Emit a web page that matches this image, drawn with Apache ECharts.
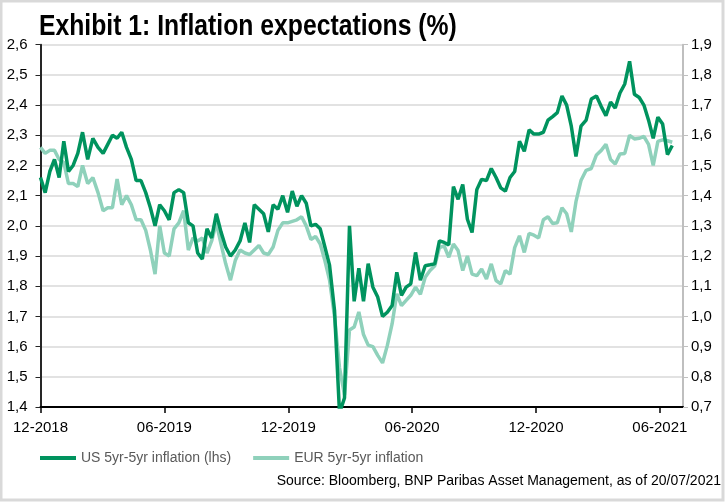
<!DOCTYPE html>
<html>
<head>
<meta charset="utf-8">
<script src="https://cdn.jsdelivr.net/npm/echarts@6/dist/echarts.min.js"></script>
<style>
html,body{margin:0;padding:0;background:#fff;}
#chart{width:725px;height:502px;}
</style>
</head>
<body>
<div id="chart"></div>
<script>
// Weekly observations starting from this date
const startDate = '2018-12-01';
const xTickLabels = ['12-2018','06-2019','12-2019','06-2020','12-2020','06-2021'];
const leftTicks = [1.4, 2.6, 0.1];   // min, max, step (lhs)
const rightTicks = [0.7, 1.9, 0.1];  // min, max, step (rhs)

// US 5yr-5yr inflation (lhs, %)
const usInflation = [
  2.16,2.11,2.18,2.22,2.16,2.28,2.18,2.20,2.24,2.31,2.22,2.29,2.26,2.24,2.27,2.30,2.29,2.31,2.26,2.22,
  2.15,2.15,2.11,2.06,2.00,2.07,2.05,2.02,2.11,2.12,2.11,2.01,2.00,1.91,1.89,1.99,
  1.96,2.04,1.98,1.93,1.90,1.92,1.95,2.01,1.945,2.07,2.055,2.04,1.98,2.07,2.055,2.10,2.045,2.115,2.065,2.10,
  2.075,2.00,2.005,1.99,1.93,1.87,1.72,1.38,1.43,2.00,1.75,1.86,1.75,1.875,
  1.797,1.764,1.70,1.714,1.736,1.846,1.77,1.797,1.808,1.912,1.82,1.868,1.871,1.874,1.95,1.945,1.937,2.13,
  2.088,2.137,2.022,1.978,2.12,2.154,2.15,2.19,2.16,2.126,2.115,2.16,2.18,2.28,2.247,
  2.318,2.304,2.304,2.31,2.35,2.362,2.375,2.43,2.40,2.33,2.23,2.33,2.35,2.42,2.43,2.395,2.365,2.41,2.39,2.44,
  2.47,2.545,2.436,2.425,2.40,2.35,2.29,2.36,2.337,2.236,2.266
];

// EUR 5yr-5yr inflation (rhs, %)
const eurInflation = [
  1.56,1.54,1.55,1.55,1.52,1.51,1.44,1.44,1.43,1.50,1.44,1.46,1.41,1.35,1.36,1.36,1.455,1.37,1.40,1.37,
  1.32,1.32,1.285,1.22,1.14,1.30,1.21,1.20,1.29,1.31,1.35,1.22,1.26,1.25,1.26,1.21,
  1.25,1.31,1.24,1.175,1.12,1.185,1.22,1.21,1.205,1.22,1.235,1.21,1.205,1.23,1.285,1.31,1.31,1.315,1.32,1.33,
  1.30,1.255,1.265,1.24,1.185,1.12,1.00,0.83,0.74,0.955,0.965,1.015,0.94,0.905,
  0.90,0.871,0.846,0.904,0.976,1.075,1.036,1.053,1.07,1.097,1.073,1.13,1.152,1.168,1.228,1.234,1.196,1.24,
  1.218,1.152,1.20,1.14,1.135,1.157,1.124,1.174,1.119,1.108,1.152,1.14,1.228,1.267,1.212,
  1.275,1.269,1.26,1.32,1.33,1.308,1.31,1.36,1.34,1.28,1.38,1.45,1.484,1.49,1.535,1.55,1.57,1.52,1.505,1.538,
  1.54,1.60,1.588,1.59,1.596,1.57,1.50,1.58,1.585,1.582,1.577
];

const seriesNames = ['US 5yr-5yr inflation (lhs)', 'EUR 5yr-5yr inflation'];
const titleText = 'Exhibit 1: Inflation expectations (%)';
const sourceText = 'Source: Bloomberg, BNP Paribas Asset Management, as of 20/07/2021';

// Build weekly dates and convert them to months elapsed since Dec 2018
const dates = [];
(function(){
  const s = new Date(startDate + 'T00:00:00Z');
  for (let i = 0; i < usInflation.length; i++) {
    dates.push(new Date(s.getTime() + i * 7 * 86400000));
  }
})();
function monthIndex(d) {
  const y = d.getUTCFullYear(), m = d.getUTCMonth(), day = d.getUTCDate();
  const dim = new Date(Date.UTC(y, m + 1, 0)).getUTCDate();
  return (y - 2018) * 12 + (m - 11) + (day - 1) / dim;
}
const usData = dates.map((d, i) => [monthIndex(d), usInflation[i]]);
const eurData = dates.map((d, i) => [monthIndex(d), eurInflation[i]]);
const tickPos = xTickLabels.map((_, i) => i * 6);

const fnt = '"Liberation Sans", Arial, sans-serif';
const chart = echarts.init(document.getElementById('chart'), null, {renderer: 'canvas'});
chart.setOption({
  animation: false,
  backgroundColor: '#ffffff',
  grid: {left: 40.5, right: 42, top: 44.7, bottom: 95, containLabel: false},
  legend: {
    data: seriesNames,
    left: 40, top: 451, padding: 0,
    icon: 'rect', itemWidth: 36, itemHeight: 4, itemGap: 22,
    textStyle: {fontFamily: fnt, fontSize: 14, color: '#595959'}
  },
  xAxis: {
    type: 'value', min: 0, max: 31.12, interval: 6,
    axisLine: {show: true, lineStyle: {color: '#000', width: 2}},
    axisTick: {show: true, inside: false, length: 6, customValues: tickPos, lineStyle: {color: '#000', width: 1.5}},
    axisLabel: {
      customValues: tickPos, margin: 13,
      fontFamily: fnt, fontSize: 15, color: '#000',
      formatter: function(v){
        const r = Math.round(v);
        if (Math.abs(v - r) > 1e-6 || r % 6 !== 0) return '';
        return xTickLabels[r / 6] || '';
      }
    },
    splitLine: {show: false}
  },
  yAxis: [{
    type: 'value', position: 'left',
    min: leftTicks[0], max: leftTicks[1], interval: leftTicks[2],
    axisLine: {show: true, lineStyle: {color: '#262626', width: 2}},
    axisTick: {show: true, length: 5, lineStyle: {color: '#262626', width: 1}},
    axisLabel: {margin: 13, fontFamily: fnt, fontSize: 15, color: '#000', formatter: v => v.toFixed(1).replace('.', ',')},
    splitLine: {show: true, lineStyle: {color: '#d9d9d9', width: 1.5}}
  }, {
    type: 'value', position: 'right',
    min: rightTicks[0], max: rightTicks[1], interval: rightTicks[2],
    axisLine: {show: true, lineStyle: {color: '#bfbfbf', width: 2}},
    axisTick: {show: true, length: 5, lineStyle: {color: '#bfbfbf', width: 1}},
    axisLabel: {margin: 8, fontFamily: fnt, fontSize: 15, color: '#000', formatter: v => v.toFixed(1).replace('.', ',')},
    splitLine: {show: false}
  }],
  series: [{
    name: seriesNames[1], type: 'line', yAxisIndex: 1, data: eurData,
    showSymbol: false, symbol: 'none', z: 2,
    lineStyle: {color: '#8fd1bb', width: 3.5}, itemStyle: {color: '#8fd1bb'}
  }, {
    name: seriesNames[0], type: 'line', yAxisIndex: 0, data: usData,
    showSymbol: false, symbol: 'none', z: 3,
    lineStyle: {color: '#00935e', width: 3.5}, itemStyle: {color: '#00935e'}
  }],
  graphic: [{
    type: 'rect', silent: true,
    shape: {x: 1, y: 1, width: 722, height: 499},
    style: {fill: 'none', stroke: '#d9d9d9', lineWidth: 3}
  }, {
    type: 'text', x: 39, y: 12, z: 100, scaleX: 0.853, originX: 0, originY: 0,
    style: {text: titleText, fontFamily: fnt, fontWeight: 'bold', fontSize: 29, fill: '#000', verticalAlign: 'top'}
  }, {
    type: 'text', right: 4, top: 474,
    style: {text: sourceText, fontFamily: fnt, fontSize: 14, fill: '#000'}
  }]
});
</script>
</body>
</html>
